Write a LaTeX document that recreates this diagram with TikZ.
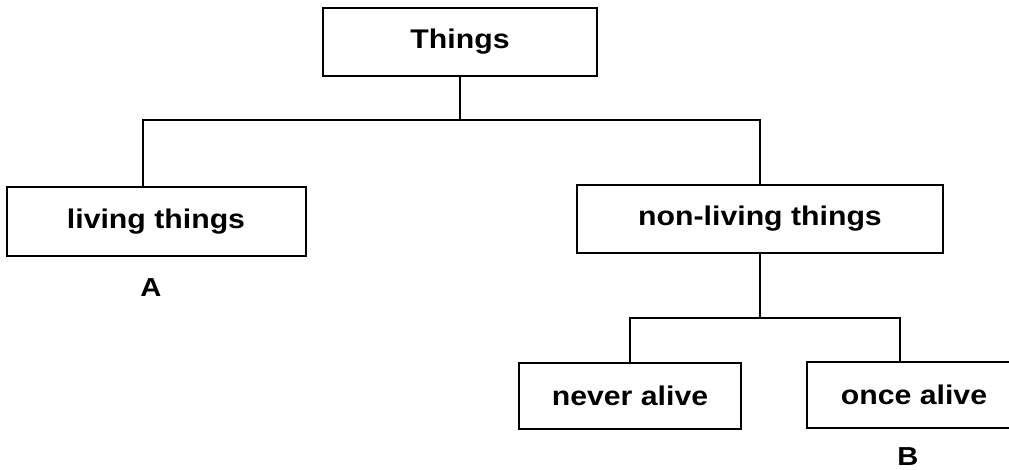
\documentclass[tikz,border=0pt]{standalone}
\usepackage{fontspec}
\setmainfont[FakeStretch=1.12]{Liberation Sans}
\usepackage{tikz}
\usetikzlibrary{positioning}

\tikzset{
  box/.style={draw,line width=2pt,inner sep=0pt,
    font=\fontsize{27}{30}\selectfont\bfseries},
  link/.style={line width=2pt},
  tag/.style={font=\fontsize{26}{30}\selectfont\bfseries}
}

\begin{document}
\begin{tikzpicture}[x=1pt,y=-1pt]
    \useasboundingbox (0,0) rectangle (1009,470);
    \node[box,minimum width=274pt,minimum height=68pt] (things) at (460,42) {Things};
    \node[box,minimum width=299pt,minimum height=69pt] (living) at (156,222) {living things};
    \node[box,minimum width=366pt,minimum height=68pt] (nonliving) at (760,219) {non-living things};
    \node[box,minimum width=222pt,minimum height=66pt] (never) at (630,396) {never alive};
    \node[box,minimum width=214pt,minimum height=66pt] (once) at (914,395) {once alive};
    \node[tag] (A) at (151,288) {A};
    \node[tag] (B) at (908,457) {B};
    %
    \coordinate (bus) at (460,120);
    \coordinate (split) at (762,318);
    \draw[link] (things.south) -- (bus);
    \draw[link] ([xshift=-13pt]living.north) |- (bus) -| (nonliving.north);
    \draw[link] (nonliving.south) -- (nonliving.south |- split);
    \draw[link] (never.north) |- (split) -| ([xshift=-14pt]once.north);
\end{tikzpicture}
\end{document}
